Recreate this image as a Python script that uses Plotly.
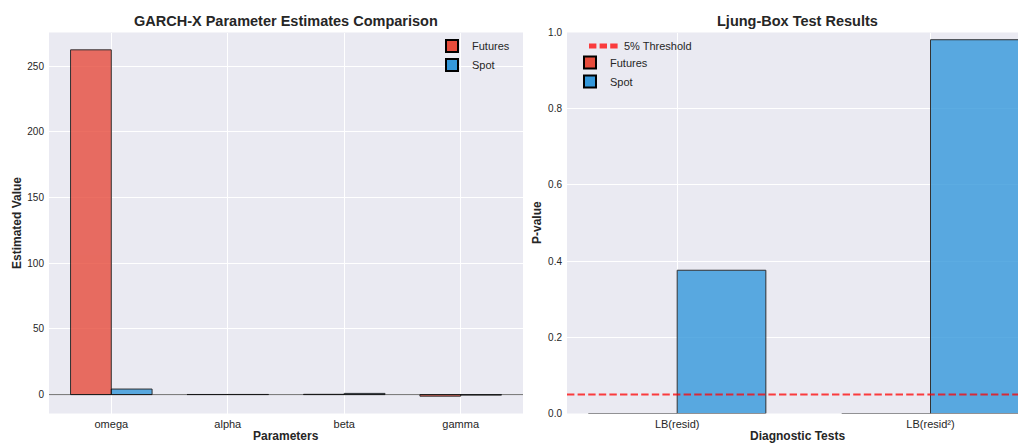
import plotly.graph_objects as go

# ---- data ----
params = ["omega", "alpha", "beta", "gamma"]
futures_est = [262.4, 0.08, 0.2, -1.2]
spot_est = [4.2, 0.1, 0.9, -0.4]

tests = ["LB(resid)", "LB(resid²)"]
futures_p = [0.0, 0.0]
spot_p = [0.376, 0.981]
threshold = 0.05

y_ticks_left = [0, 50, 100, 150, 200, 250]
y_ticks_right = [0.0, 0.2, 0.4, 0.6, 0.8, 1.0]

# ---- style ----
PAGE_W, PAGE_H = 1026, 443
OFF = 8  # default body margin of the html page
W, H = PAGE_W - OFF, PAGE_H - OFF
FUT = "rgb(231,76,60)"
SPOT = "rgb(52,152,219)"
BG = "#EAEAF2"
FONT = "Liberation Sans, Arial, sans-serif"
TXT = "#262626"
THR_LINE = dict(color="rgba(255,0,0,0.75)", width=2, dash="7.4px,3.2px")


def px_x(p):
    return (p - OFF) / W


def px_y(p):
    return 1 - (p - OFF) / H


y_dom = [px_y(413.5), px_y(32.5)]
x1_dom = [px_x(49), px_x(523)]
x2_dom = [px_x(567), 1.0]

fig = go.Figure()
bw = 0.35
bar_marker = lambda c: dict(color=c, opacity=0.8, line=dict(color="black", width=1))

fig.add_trace(go.Bar(x=params, y=futures_est, name="Futures", offset=-bw, width=bw,
                     marker=bar_marker(FUT), xaxis="x", yaxis="y", legend="legend"))
fig.add_trace(go.Bar(x=params, y=spot_est, name="Spot", offset=0, width=bw,
                     marker=bar_marker(SPOT), xaxis="x", yaxis="y", legend="legend"))

# legend entry for the threshold line (line itself drawn as a shape below)
fig.add_trace(go.Scatter(x=[None], y=[None], mode="lines", name="5% Threshold",
                         line=THR_LINE, xaxis="x2", yaxis="y2", legend="legend2"))
fig.add_trace(go.Bar(x=tests, y=futures_p, name="Futures", offset=-bw, width=bw,
                     marker=bar_marker(FUT), xaxis="x2", yaxis="y2", legend="legend3"))
fig.add_trace(go.Bar(x=tests, y=spot_p, name="Spot", offset=0, width=bw,
                     marker=bar_marker(SPOT), xaxis="x2", yaxis="y2", legend="legend3"))

# zero line on left panel
fig.add_shape(type="line", xref="x domain", yref="y", x0=0, x1=1, y0=0, y1=0,
              line=dict(color="rgba(0,0,0,0.55)", width=1), layer="above")
# threshold line on right panel
fig.add_shape(type="line", xref="x2 domain", yref="y2", x0=0, x1=1,
              y0=threshold, y1=threshold, line=THR_LINE, layer="above")

axis_common = dict(showgrid=True, gridcolor="white", gridwidth=1, zeroline=False,
                   showline=False, ticks="", automargin=False,
                   tickfont=dict(family=FONT, size=11, color=TXT))
ytick_font = dict(family=FONT, size=10, color=TXT)
leg_common = dict(xanchor="left", yanchor="top", bgcolor="rgba(0,0,0,0)",
                  font=dict(family=FONT, size=11, color=TXT), tracegroupgap=0,
                  itemsizing="constant")

fig.update_layout(
    width=W, height=H,
    margin=dict(l=0, r=0, t=0, b=0),
    paper_bgcolor="white", plot_bgcolor=BG,
    font=dict(family=FONT, color=TXT),
    barmode="overlay",
    showlegend=True,
    xaxis=dict(domain=x1_dom, anchor="y", type="category",
               range=[-0.535, 3.535], ticklabelstandoff=2, **axis_common),
    yaxis=dict(domain=y_dom, anchor="x", range=[-14.4, 275.6],
               tickvals=y_ticks_left, ticklabelstandoff=4,
               **{**axis_common, "tickfont": ytick_font}),
    xaxis2=dict(domain=x2_dom, anchor="y2", type="category",
                range=[-0.435, 1.377], ticklabelstandoff=2, **axis_common),
    yaxis2=dict(domain=y_dom, anchor="x2", range=[0, 1.0],
                tickvals=y_ticks_right, tickformat=".1f", ticklabelstandoff=4,
                **{**axis_common, "tickfont": ytick_font}),
    legend=dict(x=px_x(432), y=px_y(31.5), **leg_common),
    legend2=dict(x=px_x(584), y=px_y(31.5), **leg_common),
    legend3=dict(x=px_x(570), y=px_y(48), **leg_common),
)

annots = [
    dict(text="<b>GARCH-X Parameter Estimates Comparison</b>", x=px_x(286), y=px_y(21),
         font=dict(size=14.5)),
    dict(text="<b>Ljung-Box Test Results</b>", x=px_x(797), y=px_y(21), font=dict(size=14.5)),
    dict(text="<b>Parameters</b>", x=px_x(286), y=px_y(436), font=dict(size=12)),
    dict(text="<b>Diagnostic Tests</b>", x=px_x(797), y=px_y(436), font=dict(size=12)),
    dict(text="<b>Estimated Value</b>", x=px_x(17), y=px_y(223), textangle=-90,
         font=dict(size=12)),
    dict(text="<b>P-value</b>", x=px_x(537), y=px_y(223), textangle=-90, font=dict(size=12)),
]
for a in annots:
    fig.add_annotation(xref="paper", yref="paper", xanchor="center", yanchor="middle",
                       showarrow=False,
                       **{**a, "font": dict(family=FONT, color=TXT, **a["font"])})

fig.write_html("out.html")
